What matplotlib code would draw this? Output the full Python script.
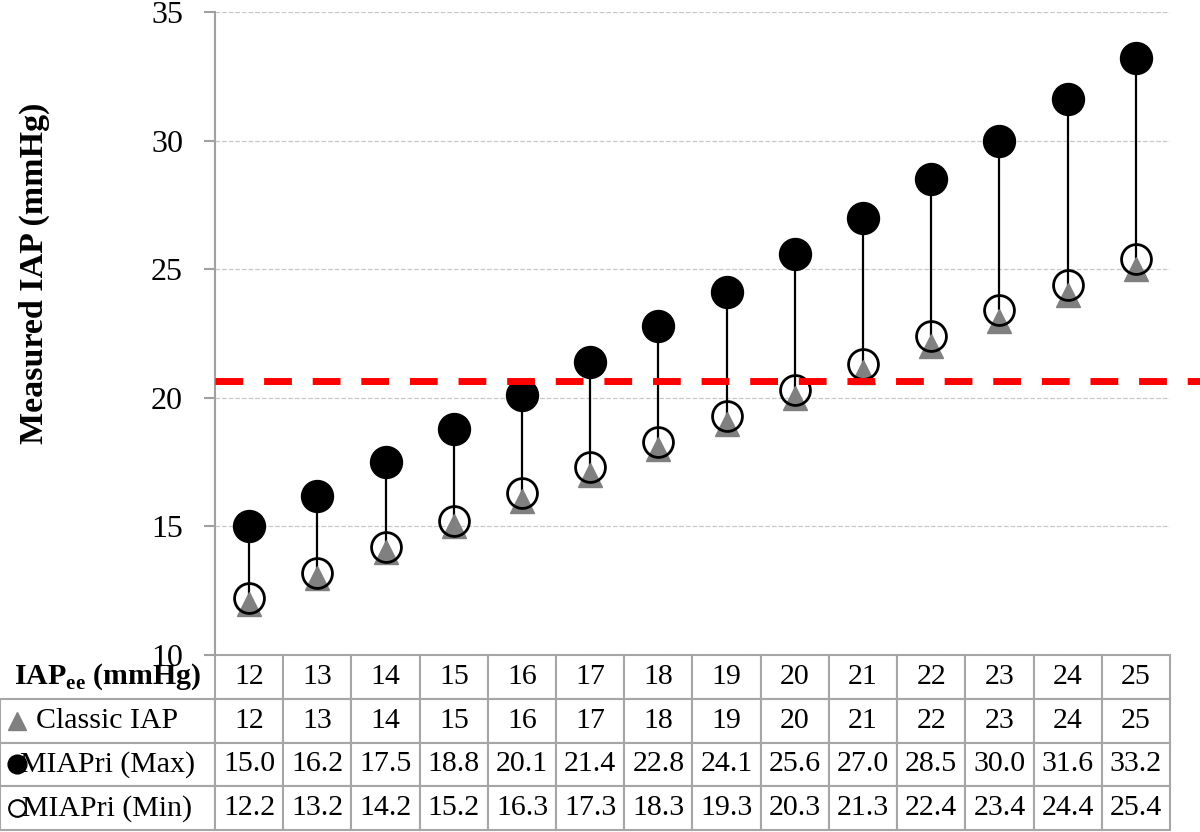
import numpy as np
import matplotlib
matplotlib.use("Agg")
import matplotlib.pyplot as plt

plt.rcParams['font.family'] = ['Liberation Serif', 'DejaVu Sans']
plt.rcParams['mathtext.fontset'] = 'custom'
plt.rcParams['mathtext.rm'] = 'Liberation Serif'
plt.rcParams['mathtext.bf'] = 'Liberation Serif:bold'

# DATA
iap_ee = [12, 13, 14, 15, 16, 17, 18, 19, 20, 21, 22, 23, 24, 25]
classic_iap = [12, 13, 14, 15, 16, 17, 18, 19, 20, 21, 22, 23, 24, 25]
miapri_max = [15.0, 16.2, 17.5, 18.8, 20.1, 21.4, 22.8, 24.1, 25.6, 27.0, 28.5, 30.0, 31.6, 33.2]
miapri_min = [12.2, 13.2, 14.2, 15.2, 16.3, 17.3, 18.3, 19.3, 20.3, 21.3, 22.4, 23.4, 24.4, 25.4]
threshold = 20.66

row_labels = [r"IAP$_{\mathbf{ee}}$ (mmHg)", "Classic IAP", "MIAPri (Max)", "MIAPri (Min)"]

W, H = 1200, 832
fig = plt.figure(figsize=(W / 100, H / 100), dpi=100)

# plot area in pixels
left, right, top, bottom = 215, 1170, 12, 655
ax = fig.add_axes([left / W, 1 - bottom / H, (right - left) / W, (bottom - top) / H])
axw, axh = right - left, bottom - top

x = np.arange(len(iap_ee))

# hi-lo lines
ax.vlines(x, miapri_min, miapri_max, color='black', lw=1.6, zorder=2)
ax.plot(x, miapri_max, 'o', ms=23, color='black', zorder=3, ls='none')
ax.plot(x, classic_iap, '^', ms=17, color='#808080', zorder=3, ls='none')
ax.plot(x, miapri_min, 'o', ms=21.5, mfc='none', mec='black', mew=2, zorder=4, ls='none')

# threshold line
ax.axhline(threshold, xmin=0, xmax=(W - left) / axw, color='#ff0000', lw=5,
           ls=(0, (4, 3)), clip_on=False, zorder=5)

ax.set_xlim(-0.5, len(iap_ee) - 0.5)
ax.set_ylim(10, 35)
ax.set_yticks([10, 15, 20, 25, 30, 35])
ax.set_xticks([])
ax.tick_params(axis='y', labelsize=23, color='#a0a0a0', length=8, width=1.5, pad=15)
ax.grid(axis='y', ls='--', color='#c8c8c8', lw=0.9)
ax.set_axisbelow(True)
for s in ['top', 'right', 'bottom']:
    ax.spines[s].set_visible(False)
ax.spines['left'].set_color('#a0a0a0')
ax.spines['left'].set_linewidth(1.5)

ax.set_ylabel("Measured IAP (mmHg)", fontsize=24.5, fontweight='bold')
ax.yaxis.set_label_coords((50 - left) / axw, (bottom - 273) / axh)

# table below the plot
rows = [iap_ee, classic_iap,
        ["%.1f" % v for v in miapri_max],
        ["%.1f" % v for v in miapri_min]]
cell_text = [[lab] + [str(v) for v in r] for lab, r in zip(row_labels, rows)]
tab_h = 175
col_w = [left] + [axw / len(iap_ee)] * len(iap_ee)
col_w = [c / sum(col_w) for c in col_w]
tbl = ax.table(cellText=cell_text, colWidths=col_w, cellLoc='center',
               bbox=[-left / axw, -tab_h / axh, 1 + left / axw, tab_h / axh])
tbl.auto_set_font_size(False)
tbl.set_fontsize(21.5)
for (r, c), cell in tbl.get_celld().items():
    cell.set_edgecolor('#a6a6a6')
    cell.set_linewidth(1.5)
    if c == 0:
        cell._loc = 'left'
        if r == 0:
            cell.visible_edges = ''
            cell.get_text().set_fontweight('bold')
            cell.PAD = 9 / left
        else:
            cell.PAD = 29 / left

# legend keys inside the table label cells
row_h = tab_h / 4
key_styles = [dict(marker='^', ms=12.5, color='#808080'),
              dict(marker='o', ms=13.5, color='black'),
              dict(marker='o', ms=12, mfc='none', mec='black', mew=1.5)]
key_px = [17, 17, 17]
for i, st in enumerate(key_styles):
    yk = -(row_h * (i + 1.5)) / axh
    ax.plot([(key_px[i] - left) / axw], [yk], ls='none', transform=ax.transAxes,
            clip_on=False, **st)

fig.savefig("out.png", dpi=100)
